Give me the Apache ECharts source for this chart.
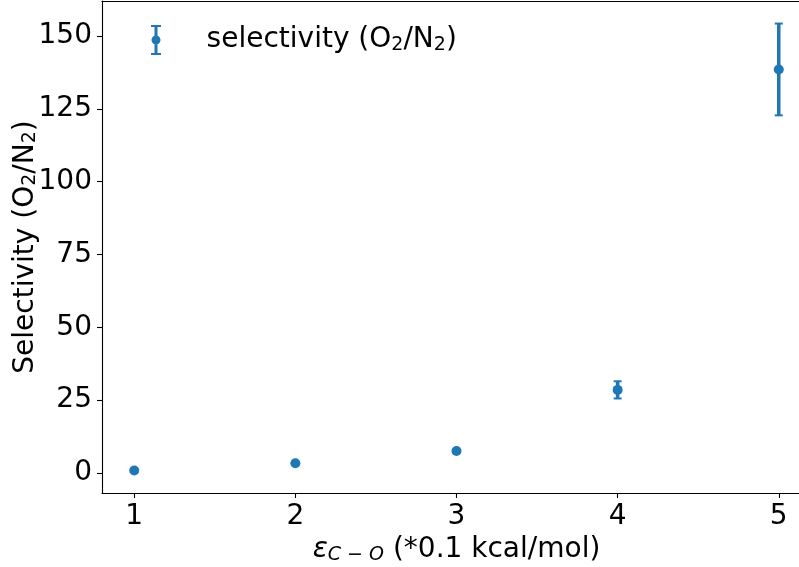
<!DOCTYPE html>
<html lang="en">
<head>
    <meta charset="UTF-8">
    <title>Selectivity</title>
    <script src="https://cdn.jsdelivr.net/npm/echarts@6/dist/echarts.min.js"></script>
    <style>
        body { margin: 0; background: #fff; }
    </style>
</head>
<body>
<div id="chart" style="width:799px;height:567px;"></div>
<script>
    // epsilon C-O values (x 0.1 kcal/mol)
    var eps = [1, 2, 3, 4, 5];
    var selectivity = [0.8, 3.3, 7.5, 28.5, 138.5];
    var selErr = [0.2, 0.3, 0.5, 2.95, 15.75];
    var xTicks = [1, 2, 3, 4, 5];
    var yTicks = [0, 25, 50, 75, 100, 125, 150];

    var blue = '#1f77b4';
    var font = 'DejaVu Sans';

    var points = [];
    var bars = [];
    for (var i = 0; i < eps.length; i++) {
        points.push([eps[i], selectivity[i]]);
        bars.push([eps[i], selectivity[i] - selErr[i], selectivity[i] + selErr[i]]);
    }

    function drawBar(params, api) {
        var lo = api.coord([api.value(0), api.value(1)]);
        var hi = api.coord([api.value(0), api.value(2)]);
        var st = {stroke: blue, lineWidth: 3.5};
        var cap = {stroke: blue, lineWidth: 2};
        return {
            type: 'group',
            children: [
                {type: 'line', shape: {x1: lo[0], y1: lo[1], x2: hi[0], y2: hi[1]}, style: st},
                {type: 'line', shape: {x1: lo[0] - 4, y1: lo[1], x2: lo[0] + 4, y2: lo[1]}, style: cap},
                {type: 'line', shape: {x1: hi[0] - 4, y1: hi[1], x2: hi[0] + 4, y2: hi[1]}, style: cap}
            ]
        };
    }

    var subRich = {
        a: {fontFamily: font, fontSize: 28, color: '#000'},
        s: {fontFamily: font, fontSize: 19, color: '#000', padding: [10, 0, 0, 0]},
        e: {fontFamily: font, fontSize: 28, color: '#000', fontStyle: 'italic'},
        es: {fontFamily: font, fontSize: 19, color: '#000', fontStyle: 'italic', padding: [10, 0, 0, 0]}
    };

    var axisLineStyle = {color: '#000', width: 1.1};

    var ct = echarts.init(document.getElementById('chart'));
    var option = {
        animation: false,
        grid: {
            left: 102, top: 1, right: -12, bottom: 74,
            outerBoundsMode: 'none',
            containLabel: false
        },
        legend: {
            left: 146, top: 20,
            itemWidth: 10, itemHeight: 30, itemGap: 10,
            icon: 'path://M0,0h10v2h-3.5v26h3.5v2h-10v-2h3.5v-26h-3.5z M5,10.5a4.5,4.5 0 1,1 -0.01,0z',
            data: ['selectivity'],
            formatter: function () {
                return '{a|    selectivity (O}{s|2}{a|/N}{s|2}{a|)}';
            },
            textStyle: {rich: subRich, padding: [0, 0, 0, 5]}
        },
        xAxis: [
            {
                type: 'value',
                min: 0.8, max: 5.2,
                name: '{e|ε}{es|C − O}{a| (*0.1 kcal/mol)}',
                nameLocation: 'middle',
                nameGap: 42,
                nameTextStyle: {rich: subRich},
                axisLine: {onZero: false, lineStyle: axisLineStyle},
                axisTick: {show: true, length: 5, lineStyle: axisLineStyle, customValues: xTicks},
                axisLabel: {fontFamily: font, fontSize: 28, color: '#000', margin: 10, customValues: xTicks},
                splitLine: {show: false}
            },
            {
                // top spine only
                type: 'value',
                position: 'top',
                min: 0.8, max: 5.2,
                axisLine: {show: true, onZero: false, lineStyle: axisLineStyle},
                axisTick: {show: false},
                axisLabel: {show: false},
                splitLine: {show: false}
            }
        ],
        yAxis: {
            type: 'value',
            min: -6.9, max: 162,
            name: '{a|Selectivity (O}{s|2}{a|/N}{s|2}{a|)}',
            nameLocation: 'middle',
            nameRotate: 90,
            nameGap: 62,
            nameMoveOverlap: false,
            nameTextStyle: {rich: subRich},
            axisLine: {show: true, onZero: false, lineStyle: axisLineStyle},
            axisTick: {show: true, length: 5, lineStyle: axisLineStyle, customValues: yTicks},
            axisLabel: {fontFamily: font, fontSize: 28, color: '#000', margin: 10, customValues: yTicks},
            splitLine: {show: false}
        },
        series: [
            {
                name: 'errbars',
                type: 'custom',
                renderItem: drawBar,
                data: bars,
                z: 2
            },
            {
                name: 'selectivity',
                type: 'scatter',
                data: points,
                symbolSize: 10,
                itemStyle: {color: blue, opacity: 1},
                z: 3
            }
        ]
    };
    ct.setOption(option);
</script>
</body>
</html>
